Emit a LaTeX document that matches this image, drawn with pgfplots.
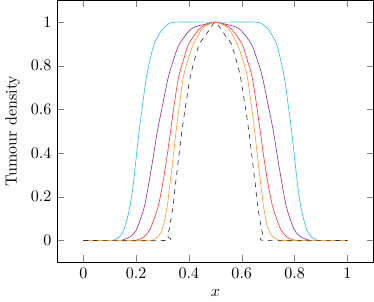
\documentclass[border=0pt]{standalone}
\usepackage{pgfplots}
\pgfplotsset{compat=1.18}

\definecolor{cCyan}{RGB}{50,190,240}
\definecolor{cPurple}{RGB}{150,50,160}
\definecolor{cRed}{RGB}{250,60,60}
\definecolor{cOrange}{RGB}{255,160,50}

\begin{document}
\begin{tikzpicture}
\begin{axis}[
    scale only axis,
    width=197pt, height=163pt,
    xmin=-0.1, xmax=1.1,
    ymin=-0.1, ymax=1.1,
    xtick={0,0.2,0.4,0.6,0.8,1},
    ytick={0,0.2,0.4,0.6,0.8,1},
    xlabel={$x$},
    ylabel={Tumour density},
]
% cyan (widest)
\addplot[cCyan, smooth] coordinates {
 (0,0) (0.105,0) (0.12,0.005) (0.132,0.012) (0.145,0.03) (0.155,0.055) (0.166,0.1)
 (0.177,0.16) (0.188,0.25) (0.199,0.37) (0.211,0.5) (0.225,0.63) (0.239,0.75)
 (0.255,0.84) (0.268,0.9) (0.295,0.96) (0.32,0.99) (0.35,1) (0.5,1)
 (0.65,1) (0.68,0.99) (0.705,0.96) (0.732,0.9) (0.745,0.84) (0.761,0.75)
 (0.775,0.63) (0.789,0.5) (0.801,0.37) (0.812,0.25) (0.823,0.16) (0.834,0.1)
 (0.845,0.055) (0.855,0.03) (0.868,0.012) (0.88,0.005) (0.895,0) (1,0)
};
% purple
\addplot[cPurple, smooth] coordinates {
 (0,0) (0.13,0) (0.155,0.005) (0.17,0.012) (0.19,0.03) (0.203,0.055) (0.217,0.1)
 (0.232,0.16) (0.246,0.25) (0.263,0.37) (0.28,0.5) (0.3,0.62) (0.322,0.75)
 (0.342,0.83) (0.364,0.9) (0.41,0.97) (0.46,0.99) (0.5,1)
 (0.54,0.99) (0.59,0.97) (0.636,0.9) (0.658,0.83) (0.678,0.75) (0.7,0.62)
 (0.72,0.5) (0.737,0.37) (0.754,0.25) (0.768,0.16) (0.783,0.1) (0.797,0.055)
 (0.81,0.03) (0.83,0.012) (0.845,0.005) (0.87,0) (1,0)
};
% red
\addplot[cRed, smooth] coordinates {
 (0,0) (0.18,0) (0.21,0.005) (0.225,0.012) (0.24,0.03) (0.254,0.055) (0.268,0.1)
 (0.284,0.16) (0.299,0.25) (0.315,0.37) (0.33,0.5) (0.345,0.63) (0.361,0.75)
 (0.38,0.83) (0.399,0.9) (0.44,0.97) (0.47,0.99) (0.5,1)
 (0.53,0.99) (0.56,0.97) (0.601,0.9) (0.62,0.83) (0.639,0.75) (0.655,0.63)
 (0.67,0.5) (0.685,0.37) (0.701,0.25) (0.716,0.16) (0.732,0.1) (0.746,0.055)
 (0.76,0.03) (0.775,0.012) (0.79,0.005) (0.82,0) (1,0)
};
% orange
\addplot[cOrange, smooth] coordinates {
 (0,0) (0.24,0) (0.265,0.005) (0.278,0.012) (0.29,0.03) (0.3,0.055) (0.309,0.1)
 (0.318,0.16) (0.327,0.25) (0.339,0.37) (0.351,0.5) (0.365,0.63) (0.379,0.75)
 (0.397,0.83) (0.417,0.9) (0.45,0.97) (0.475,0.99) (0.5,1)
 (0.525,0.99) (0.55,0.97) (0.583,0.9) (0.603,0.83) (0.621,0.75) (0.635,0.63)
 (0.649,0.5) (0.661,0.37) (0.673,0.25) (0.682,0.16) (0.691,0.1) (0.7,0.055)
 (0.71,0.03) (0.722,0.012) (0.735,0.005) (0.76,0) (1,0)
};
% initial profile (dashed)
\addplot[black!80, dashed, smooth] coordinates {
 (0,0) (0.31,0) (0.318,0.02) (0.325,0.05) (0.332,0.1) (0.34,0.16) (0.348,0.25)
 (0.36,0.37) (0.373,0.5) (0.389,0.63) (0.405,0.75) (0.422,0.83) (0.439,0.9)
 (0.46,0.935) (0.48,0.97) (0.5,1) (0.52,0.97) (0.54,0.935) (0.561,0.9)
 (0.578,0.83) (0.595,0.75) (0.611,0.63) (0.627,0.5) (0.64,0.37) (0.652,0.25)
 (0.66,0.16) (0.668,0.1) (0.675,0.05) (0.682,0.02) (0.69,0) (1,0)
};
\end{axis}
\end{tikzpicture}
\end{document}
